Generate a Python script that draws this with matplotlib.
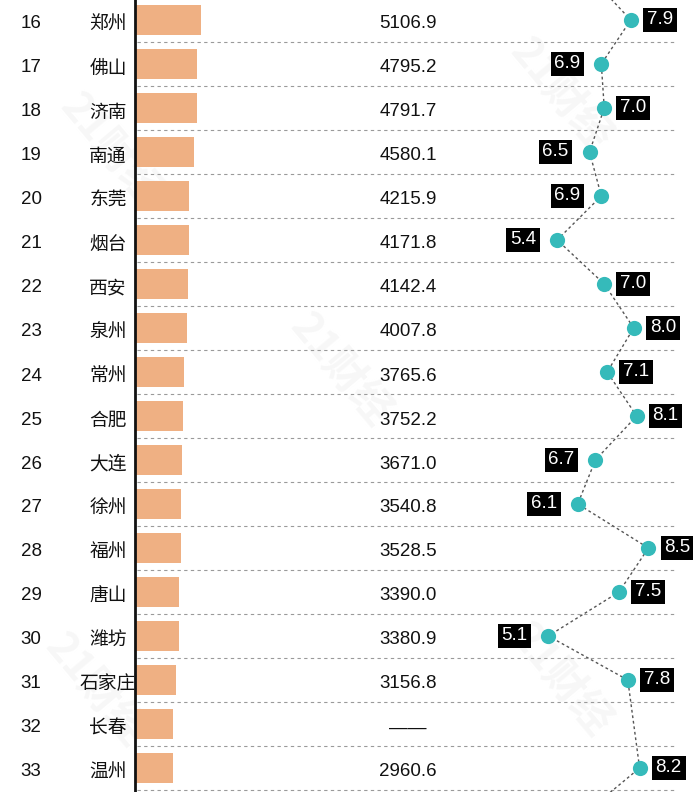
import matplotlib.pyplot as plt
import numpy as np

plt.rcParams['font.family'] = ['Liberation Sans', 'Noto Sans CJK SC', 'DejaVu Sans']

# 数据
ranks = list(range(16, 34))
cities = ['郑州', '佛山', '济南', '南通', '东莞', '烟台', '西安', '泉州', '常州',
          '合肥', '大连', '徐州', '福州', '唐山', '潍坊', '石家庄', '长春', '温州']
gdp = [5106.9, 4795.2, 4791.7, 4580.1, 4215.9, 4171.8, 4142.4, 4007.8, 3765.6,
       3752.2, 3671.0, 3540.8, 3528.5, 3390.0, 3380.9, 3156.8, None, 2960.6]
bar_gdp = [v if v is not None else 2950 for v in gdp]   # 长春: 条形长度估计
growth = [7.9, 6.9, 7.0, 6.5, 6.9, 5.4, 7.0, 8.0, 7.1, 8.1, 6.7, 6.1, 8.5, 7.5,
          5.1, 7.8, None, 8.2]
label_side = ['r', 'l', 'r', 'l', 'l', 'l', 'r', 'r', 'r', 'r', 'l', 'l', 'r',
              'r', 'l', 'r', None, 'r']
growth_prev = 6.5   # 第15名（图外）
growth_next = 6.4   # 第34名（图外）

W, H = 693, 792
row_px = 44
top_px = 20
n = len(cities)
ylim = ((H - top_px) / row_px, -top_px / row_px)
y = np.arange(n)
text_dy = 4 / row_px

fig = plt.figure(figsize=(W / 100, H / 100), dpi=100)

# 背景层：水印
ax = fig.add_axes([0, 0, 1, 1])
ax.set_xlim(0, W)
ax.set_ylim(H, 0)
ax.axis('off')
for wx, wy in [(110, 150), (340, 370), (560, 95), (560, 680), (95, 690)]:
    ax.text(wx, wy, '21财经', fontsize=30, fontweight='bold', color='#f7f7f7',
            rotation=-50, ha='center', va='center', family='Noto Sans CJK SC', zorder=0)

# 文字与分隔线
axt = fig.add_axes([0, 0, 1, 1])
axt.patch.set_alpha(0)
axt.set_xlim(0, W)
axt.set_ylim(*ylim)
axt.axis('off')

for i in range(-1, n):
    axt.axhline(i + 0.5, xmin=137 / W, xmax=675 / W, color='#9a9a9a', lw=0.8,
                ls=(0, (3, 3)), zorder=1)

for i in range(n):
    axt.text(31, i + text_dy, str(ranks[i]), fontsize=13.5, ha='center', va='center',
             color='#111111')
    axt.text(108, i + text_dy, cities[i], fontsize=13.5, ha='center', va='center',
             color='#111111', family='Noto Sans CJK SC')
    val = f'{gdp[i]:.1f}' if gdp[i] is not None else '——'
    axt.text(408, i + text_dy, val, fontsize=13.5, ha='center', va='center',
             color='#111111', family=['Liberation Sans', 'Noto Sans CJK SC'])

# 条形图
bar_left = 135
px_per_unit = 0.0129
axb = fig.add_axes([bar_left / W, 0, (W - bar_left) / W, 1])
axb.patch.set_alpha(0)
axb.set_xlim(0, (W - bar_left) / px_per_unit)
axb.set_ylim(*ylim)
axb.barh(y, bar_gdp, height=0.66, color='#efb083', left=0)
for s in ['top', 'right', 'bottom']:
    axb.spines[s].set_visible(False)
axb.spines['left'].set_linewidth(2)
axb.spines['left'].set_color('#111111')
axb.set_xticks([])
axb.set_yticks([])

# 增速点线图
g_px = 29.45
g_x0 = 398.1
axd = fig.add_axes([0, 0, 1, 1])
axd.patch.set_alpha(0)
axd.set_xlim(-g_x0 / g_px, (W - g_x0) / g_px)
axd.set_ylim(*ylim)
axd.axis('off')

line_y = [-1] + [i for i in range(n) if growth[i] is not None] + [n]
line_g = [growth_prev] + [g for g in growth if g is not None] + [growth_next]
axd.plot(line_g, line_y, color='#555555', lw=1, ls=(0, (2, 2)), zorder=2)
gy = [i for i in range(n) if growth[i] is not None]
gv = [g for g in growth if g is not None]
axd.scatter(gv, gy, s=120, color='#35baba', zorder=3, linewidths=0)

for i in range(n):
    if growth[i] is None:
        continue
    if label_side[i] == 'r':
        off, ha = 11.5, 'left'
    else:
        off, ha = -15, 'right'
    axd.annotate(f'{growth[i]:.1f}', (growth[i], i), xytext=(off, 0),
                 textcoords='offset points', ha=ha, va='center', fontsize=13.5,
                 color='white', zorder=4,
                 bbox=dict(boxstyle='square,pad=0.2', fc='black', ec='none'))

fig.savefig('out.png', dpi=100)
